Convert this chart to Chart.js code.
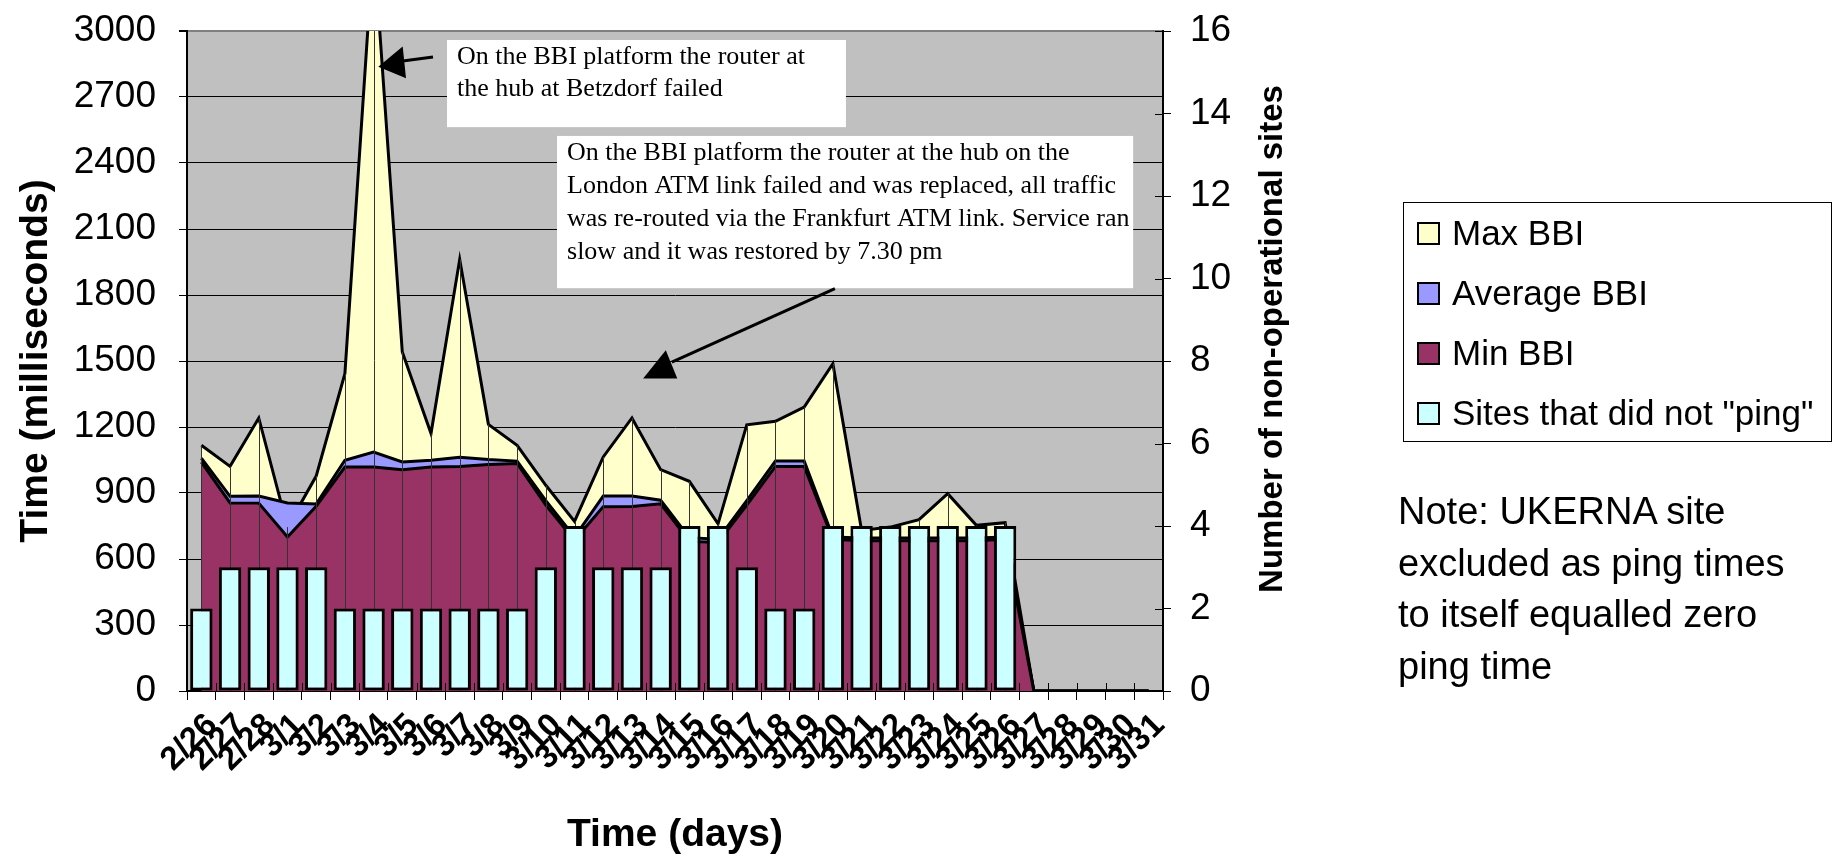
<!DOCTYPE html>
<html>
<head>
<meta charset="utf-8">
<script src="https://cdn.jsdelivr.net/npm/chart.js@4.4.0/dist/chart.umd.min.js"></script>
<style>
  body { margin: 0; background: #fff; }
  #wrap { position: relative; width: 1833px; height: 859px; }
  #legend {
    position: absolute; left: 1403px; top: 202px; width: 429px; height: 240px;
    border: 1px solid #000; box-sizing: border-box;
    font: 35px "Liberation Sans", Arial, sans-serif; color: #000;
  }
  .item { position: absolute; left: 13px; height: 40px; line-height: 40px; white-space: nowrap; }
  .sw { display: inline-block; width: 19px; height: 19px; border: 2px solid #000; vertical-align: middle; margin: -4px 12px 0 0; }
  #note {
    position: absolute; left: 1398px; top: 486px; width: 430px;
    font: 38px "Liberation Sans", Arial, sans-serif; line-height: 51.7px; color: #000;
  }
</style>
</head>
<body>
<div id="wrap">
  <canvas id="myChart" width="1833" height="859"></canvas>
  <div id="legend"></div>
  <div id="note">Note: UKERNA site<br>excluded as ping times<br>to itself equalled zero<br>ping time</div>
</div>
<script>
const days = ['2/26', '2/27', '2/28', '3/1', '3/2', '3/3', '3/4', '3/5', '3/6', '3/7', '3/8', '3/9',
  '3/10', '3/11', '3/12', '3/13', '3/14', '3/15', '3/16', '3/17', '3/18', '3/19', '3/20', '3/21',
  '3/22', '3/23', '3/24', '3/25', '3/26', '3/27', '3/28', '3/29', '3/30', '3/31'];

// ping times in ms
const maxBBI = [1117, 1021, 1241, 745, 977, 1442, 3400, 1541, 1170, 1962, 1212, 1117, 935, 771, 1064, 1241, 1006,
  953, 760, 1210, 1226, 1291, 1488, 730, 745, 779, 897, 753, 765, 0, 0, 0, 0, 0];
const avgBBI = [1058, 885, 886, 855, 850, 1049, 1086, 1041, 1049, 1063, 1052, 1045, 865, 700, 886, 886, 867,
  697, 690, 865, 1045, 1045, 700, 695, 695, 695, 695, 695, 700, 0, 0, 0, 0, 0];
const minBBI = [1040, 855, 854, 700, 840, 1018, 1018, 1006, 1018, 1021, 1030, 1034, 845, 685, 838, 839, 851,
  680, 675, 845, 1021, 1021, 690, 683, 683, 683, 683, 683, 690, 0, 0, 0, 0, 0];

// number of sites that did not ping (right axis)
const sitesDown = [2, 3, 3, 3, 3, 2, 2, 2, 2, 2, 2, 2, 3, 4, 3, 3, 3, 4, 4, 3, 2, 2, 4, 4, 4, 4, 4, 4, 4,
  null, null, null, null, null];

// text boxes, placed in data units (category index, ms)
const callouts = [
  {
    box: [8.557, 2959, 22.455, 2563], gap: 32,
    lines: ['On the BBI platform the router at', 'the hub at Betzdorf failed'],
    from: [8.07, 2882], to: [6.75, 2859],
    head: [[6.164, 2838], [7.014, 2929], [7.129, 2785]]
  },
  {
    box: [12.39, 2523, 32.46, 1831], gap: 33,
    lines: ['On the BBI platform the router at the hub on the',
      'London ATM link failed and was replaced, all traffic',
      'was re-routed via the Frankfurt ATM link. Service ran',
      'slow and it was restored by 7.30 pm'],
    from: [22.07, 1829], to: [16.39, 1495],
    head: [[16.18, 1549], [15.39, 1421], [16.58, 1421]]
  }
];

Chart.defaults.font.family = '"Liberation Sans", Arial, sans-serif';
Chart.defaults.color = '#000';

// grey plot background
const plotBg = {
  id: 'plotBg',
  beforeDraw(chart) {
    const { ctx, chartArea: a } = chart;
    ctx.save();
    ctx.fillStyle = '#C0C0C0';
    ctx.fillRect(a.left, a.top, a.right - a.left, a.bottom - a.top);
    ctx.restore();
  }
};

// thin drop lines under each point, drawn just before the bars
const dropLines = {
  id: 'dropLines',
  beforeDatasetDraw(chart, args) {
    if (args.meta.type !== 'bar') return;
    const { ctx, chartArea: a } = chart;
    const pts = chart.getDatasetMeta(0).data;
    const base = chart.scales.y.getPixelForValue(0);
    ctx.save();
    ctx.beginPath();
    ctx.rect(a.left, a.top, a.right - a.left, a.bottom - a.top);
    ctx.clip();
    ctx.strokeStyle = '#333';
    ctx.lineWidth = 1;
    pts.forEach(p => {
      ctx.beginPath();
      ctx.moveTo(Math.round(p.x) + 0.5, p.y);
      ctx.lineTo(Math.round(p.x) + 0.5, base);
      ctx.stroke();
    });
    ctx.restore();
  }
};

// inner half of the tick marks, notes, arrows and right axis title
const extras = {
  id: 'extras',
  afterDatasetsDraw(chart) {
    const { ctx, chartArea: a, scales } = chart;
    const X = v => scales.x.getPixelForValue(v);
    const Y = v => scales.y.getPixelForValue(v);
    ctx.save();
    ctx.strokeStyle = '#000';
    ctx.lineWidth = 1;
    scales.y1.ticks.forEach(t => {
      const y = Math.round(scales.y1.getPixelForValue(t.value)) + 0.5;
      ctx.beginPath(); ctx.moveTo(a.right - 8, y); ctx.lineTo(a.right, y); ctx.stroke();
    });
    for (let i = 0; i <= days.length; i++) {
      const x = Math.round(X(i - 0.5)) + 0.5;
      ctx.beginPath(); ctx.moveTo(x, a.bottom - 8); ctx.lineTo(x, a.bottom); ctx.stroke();
    }

    callouts.forEach(c => {
      const x0 = X(c.box[0]), y0 = Y(c.box[1]), x1 = X(c.box[2]), y1 = Y(c.box[3]);
      ctx.fillStyle = '#fff';
      ctx.fillRect(x0, y0, x1 - x0, y1 - y0);
      ctx.fillStyle = '#000';
      ctx.font = '26px "Liberation Serif", "Times New Roman", serif';
      ctx.textBaseline = 'middle';
      ctx.textAlign = 'left';
      c.lines.forEach((t, i) => ctx.fillText(t, x0 + 10, y0 + 17 + i * c.gap));
      ctx.lineWidth = 3;
      ctx.beginPath();
      ctx.moveTo(X(c.from[0]), Y(c.from[1]));
      ctx.lineTo(X(c.to[0]), Y(c.to[1]));
      ctx.stroke();
      ctx.beginPath();
      c.head.forEach((h, i) => i ? ctx.lineTo(X(h[0]), Y(h[1])) : ctx.moveTo(X(h[0]), Y(h[1])));
      ctx.closePath();
      ctx.fill();
    });

    ctx.translate(a.right + 110, a.top + 308);
    ctx.rotate(-Math.PI / 2);
    ctx.font = 'bold 33px "Liberation Sans", Arial, sans-serif';
    ctx.textAlign = 'center';
    ctx.textBaseline = 'middle';
    ctx.fillText('Number of non-operational sites', 0, 0);
    ctx.restore();
  }
};

// fixed axis sizes so the plot sits where it does in the original
const fitWidth = w => s => { s.width = w; s.paddingTop = 0; s.paddingBottom = 0; };

const ctx = document.getElementById('myChart').getContext('2d');
const chart = new Chart(ctx, {
  type: 'bar',
  data: {
    labels: days,
    datasets: [
      {
        type: 'line', label: 'Max BBI', data: maxBBI, yAxisID: 'y', order: 3,
        backgroundColor: '#FFFFCC', borderColor: '#000', borderWidth: 3,
        pointRadius: 0, fill: 'origin', tension: 0
      },
      {
        type: 'line', label: 'Average BBI', data: avgBBI, yAxisID: 'y', order: 2,
        backgroundColor: '#9999FF', borderColor: '#000', borderWidth: 3,
        pointRadius: 0, fill: 'origin', tension: 0
      },
      {
        type: 'line', label: 'Min BBI', data: minBBI, yAxisID: 'y', order: 1,
        backgroundColor: '#993366', borderColor: '#000', borderWidth: 3,
        pointRadius: 0, fill: 'origin', tension: 0
      },
      {
        type: 'bar', label: 'Sites that did not "ping"', data: sitesDown, yAxisID: 'y1', order: 0,
        backgroundColor: '#CCFFFF', borderColor: '#000', borderWidth: 3, borderSkipped: false,
        categoryPercentage: 1, barPercentage: 0.78
      }
    ]
  },
  options: {
    responsive: false,
    animation: false,
    layout: { padding: { left: 0, right: 543, top: 31, bottom: 0 } },
    plugins: {
      legend: { display: false },
      tooltip: { enabled: false }
    },
    scales: {
      x: {
        offset: true,
        grid: { drawOnChartArea: false, offset: true, tickLength: 9, color: '#000' },
        border: { color: '#000', width: 2 },
        ticks: {
          autoSkip: false, minRotation: 45, maxRotation: 45, padding: 6, labelOffset: 11,
          font: { size: 33, weight: 'bold' }
        },
        title: { display: true, text: 'Time (days)', padding: 0, font: { size: 39, weight: 'bold' } },
        afterFit: s => { s.height = 168; s.paddingLeft = 0; s.paddingRight = 0; }
      },
      y: {
        position: 'left', min: 0, max: 3000,
        ticks: { stepSize: 300, padding: 23, font: { size: 37 }, callback: v => String(v) },
        grid: {
          color: c => (c.tick && c.tick.value === 3000 ? '#808080' : '#000'),
          lineWidth: c => (c.tick && c.tick.value === 3000 ? 2 : 1),
          tickColor: '#000', tickLength: 8
        },
        border: { color: '#000', width: 2 },
        title: { display: true, text: 'Time (milliseconds)', padding: { top: 13, bottom: 0 }, font: { size: 39, weight: 'bold' } },
        afterFit: fitWidth(187)
      },
      y1: {
        position: 'right', min: 0, max: 16,
        ticks: { stepSize: 2, padding: 19, font: { size: 37 } },
        grid: { drawOnChartArea: false, tickLength: 8, color: '#000' },
        border: { color: '#000', width: 2 },
        afterFit: fitWidth(127)
      }
    }
  },
  plugins: [plotBg, dropLines, extras]
});

// legend box on the right
const legend = document.getElementById('legend');
chart.data.datasets.forEach((ds, i) => {
  const row = document.createElement('div');
  row.className = 'item';
  row.style.top = (10 + i * 60) + 'px';
  row.innerHTML = '<span class="sw" style="background:' + ds.backgroundColor + '"></span>';
  row.appendChild(document.createTextNode(ds.label));
  legend.appendChild(row);
});
</script>
</body>
</html>
